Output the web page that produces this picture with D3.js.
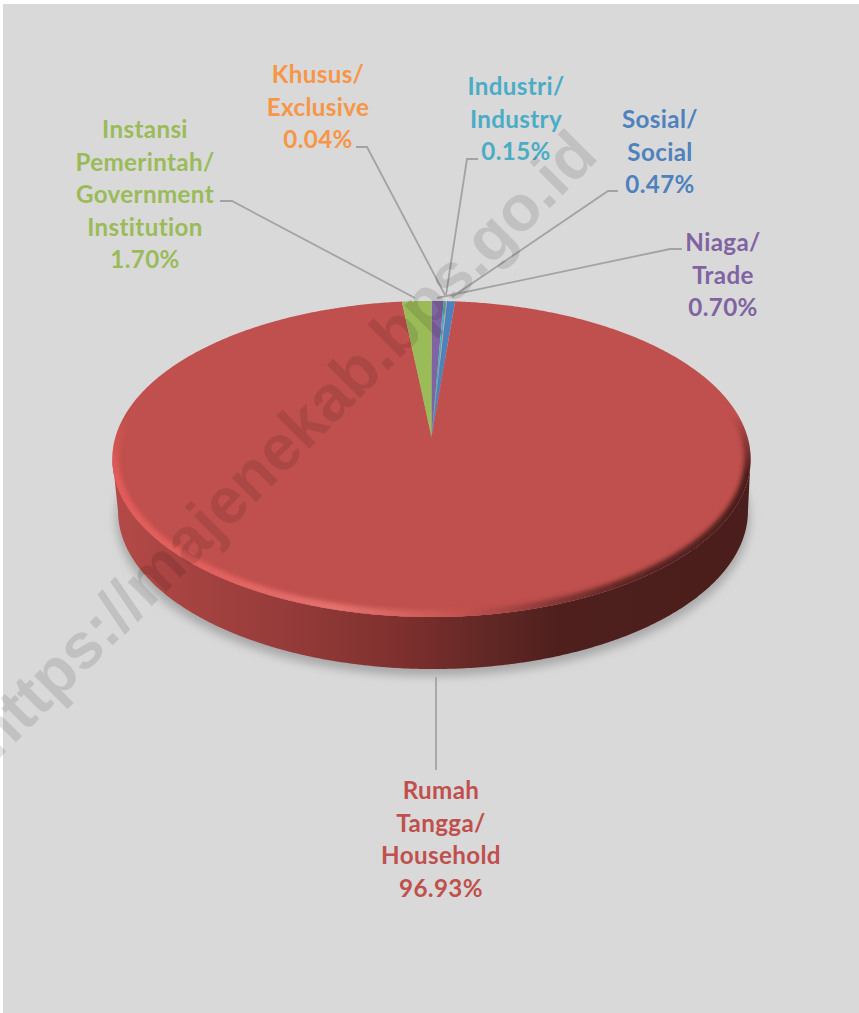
<!DOCTYPE html>
<html>
<head>
<meta charset="utf-8">
<script src="https://cdn.jsdelivr.net/npm/d3@7"></script>
<style>
	html, body { margin: 0; padding: 0; background: #fff; }
	svg { display: block; }
</style>
</head>
<body>
<script>
//wrap everything so nothing is in global scope
(function () {
	//chart data, clockwise from 12 o'clock
	var categories = ["Niaga/ Trade", "Industri/ Industry", "Khusus/ Exclusive", "Sosial/ Social", "Rumah Tangga/ Household", "Instansi Pemerintah/ Government Institution"];
	var values = [0.70, 0.15, 0.04, 0.47, 96.93, 1.70];
	var valueLabels = ["0.70%", "0.15%", "0.04%", "0.47%", "96.93%", "1.70%"];
	var labelLines = [
		["Niaga/", "Trade"],
		["Industri/", "Industry"],
		["Khusus/", "Exclusive"],
		["Sosial/", "Social"],
		["Rumah", "Tangga/", "Household"],
		["Instansi", "Pemerintah/", "Government", "Institution"]
	];
	var colors = ["#8064a2", "#4bacc6", "#f79646", "#4f81bd", "#c0504d", "#9bbb59"];

	//layout of labels: centre x, centre y of first line
	var labelX = [723, 516, 318, 660, 441, 145];
	var labelY = [243, 87, 75, 120, 791, 130];
	var lineStep = 32.6;

	//leader lines
	var leaders = [
		[[682, 249], [670, 249], [437, 298]],
		[[478, 159], [467, 159], [446, 295]],
		[[356, 147], [367, 147], [445, 295]],
		[[618, 191], [608, 191], [452, 297]],
		[[436, 677], [436, 770]],
		[[220, 201], [232, 201], [415, 298]]
	];

	var width = 859, height = 1013;

	//pie in perspective: p is the foreshortening, apex is the pie centre on screen
	var apexX = 431.5, apexY = 437, spanX = 316, spanY = 155, p = 0.139;
	var depth = 52;

	function project(angle, scaleX, shiftX, shiftY) {
		var u = Math.sin(angle), v = Math.cos(angle), w = 1 + p * v;
		return [
			apexX + (shiftX || 0) + (scaleX || 1) * spanX * u / w,
			apexY + (shiftY || 0) - spanY * v / w
		];
	}

	var line = d3.line();

	var svg = d3.select("body").append("svg")
		.attr("width", width)
		.attr("height", height);

	var defs = svg.append("defs");

	defs.append("filter").attr("id", "shadowBlur")
		.attr("x", "-10%").attr("y", "-10%").attr("width", "120%").attr("height", "120%")
		.append("feGaussianBlur").attr("stdDeviation", 5);

	defs.append("filter").attr("id", "rimBlur")
		.attr("x", "-10%").attr("y", "-10%").attr("width", "120%").attr("height", "120%")
		.append("feGaussianBlur").attr("stdDeviation", 2.2);

	function addGradient(id, stops) {
		var g = defs.append("linearGradient").attr("id", id)
			.attr("gradientUnits", "userSpaceOnUse")
			.attr("x1", 113).attr("x2", 751).attr("y1", 0).attr("y2", 0);
		stops.forEach(function (s) {
			g.append("stop").attr("offset", s[0]).attr("stop-color", s[1]);
		});
	}

	//side wall gets darker to the right
	addGradient("wallGrad", [
		[0, "#b44a47"], [0.12, "#a64341"], [0.3, "#923a38"], [0.45, "#7e302e"],
		[0.58, "#632825"], [0.7, "#4e1f1d"], [1, "#4a1e1c"]
	]);
	//rim highlight on the left, soft dark edge on the right
	addGradient("rimGrad", [
		[0, "#e25c5a"], [0.15, "#e2605d"], [0.35, "#e4726e"], [0.47, "#d2605c"],
		[0.56, "#c0504d"], [0.68, "#8a3a38"], [0.8, "#5e2624"], [1, "#4a1e1c"]
	]);

	//rim only shows from about the widest point of the pie downwards
	var rimFade = defs.append("linearGradient").attr("id", "rimFade")
		.attr("gradientUnits", "userSpaceOnUse")
		.attr("x1", 0).attr("x2", 0).attr("y1", 415).attr("y2", 475);
	rimFade.append("stop").attr("offset", 0).attr("stop-color", "#000");
	rimFade.append("stop").attr("offset", 1).attr("stop-color", "#fff");
	defs.append("mask").attr("id", "rimMask")
		.attr("maskUnits", "userSpaceOnUse")
		.attr("x", 0).attr("y", 0).attr("width", width).attr("height", height)
		.append("rect").attr("width", width).attr("height", height).attr("fill", "url(#rimFade)");

	//grey panel, thin white margin at top and left
	svg.append("rect")
		.attr("x", 3).attr("y", 4)
		.attr("width", width - 3).attr("height", height - 4)
		.attr("fill", "#d9d9d9");

	var fullCircle = d3.range(0, 2 * Math.PI, Math.PI / 360);
	var pieces = d3.pie().sort(null).value(function (d) { return d; })(values);

	var topOutline = line(fullCircle.map(function (a) { return project(a); })) + "Z";

	defs.append("clipPath").attr("id", "topClip")
		.append("path").attr("d", topOutline);

	//soft shadow under the pie
	svg.append("path")
		.attr("d", line(fullCircle.map(function (a) { return project(a, 0.992, 1.5, depth + 7); })) + "Z")
		.attr("fill", "#a8a8a8")
		.attr("filter", "url(#shadowBlur)");

	//side wall, between the two points where the outline is widest
	var sideStart = Math.acos(-p), sideEnd = 2 * Math.PI - sideStart;
	var sideAngles = d3.range(sideStart, sideEnd, Math.PI / 360).concat([sideEnd]);
	var wallOutline = sideAngles.map(function (a) { return project(a); })
		.concat(sideAngles.slice().reverse().map(function (a) { return project(a, 0.987, 1.5, depth); }));
	svg.append("path")
		.attr("d", line(wallOutline) + "Z")
		.attr("fill", "url(#wallGrad)");

	//top face slices
	svg.append("g").selectAll("path")
		.data(pieces)
		.enter()
		.append("path")
		.attr("d", function (d) {
			var n = Math.max(2, Math.ceil((d.endAngle - d.startAngle) / (Math.PI / 360)));
			var pts = d3.range(n + 1).map(function (i) {
				return project(d.startAngle + (d.endAngle - d.startAngle) * i / n);
			});
			return line([[apexX, apexY]].concat(pts)) + "Z";
		})
		.attr("fill", function (d, i) { return colors[i]; });

	//rounded rim on the front edge, kept inside the top face
	var rimAngles = d3.range(sideStart - 0.5, sideEnd + 0.5, Math.PI / 360);
	svg.append("g")
		.attr("clip-path", "url(#topClip)")
		.append("g")
		.attr("mask", "url(#rimMask)")
		.append("path")
		.attr("d", line(rimAngles.map(function (a) { return project(a); })))
		.attr("fill", "none")
		.attr("stroke", "url(#rimGrad)")
		.attr("stroke-width", 13)
		.attr("filter", "url(#rimBlur)");

	//leader lines
	svg.append("g").selectAll("path")
		.data(leaders)
		.enter()
		.append("path")
		.attr("d", function (d) { return line(d); })
		.attr("fill", "none")
		.attr("stroke", "#a3a3a3")
		.attr("stroke-width", 1.8);

	//labels
	var labels = svg.append("g").selectAll("text")
		.data(categories)
		.enter()
		.append("text")
		.attr("class", "label")
		.attr("text-anchor", "middle")
		.attr("font-family", "Lato, 'Open Sans', sans-serif")
		.attr("font-weight", 700)
		.attr("font-size", 24.2)
		.attr("letter-spacing", 0.35)
		.attr("fill", function (d, i) { return colors[i]; });

	labels.each(function (d, i) {
		var rows = labelLines[i].concat([valueLabels[i]]);
		d3.select(this).selectAll("tspan")
			.data(rows)
			.enter()
			.append("tspan")
			.attr("x", labelX[i])
			.attr("y", function (r, j) { return labelY[i] + j * lineStep + 8; })
			.text(function (r) { return r; });
	});

	//watermark over everything, its start runs off the left edge as in the source
	svg.append("text")
		.attr("transform", "translate(600,158) rotate(-45)")
		.attr("text-anchor", "end")
		.attr("font-family", "'Liberation Sans', Arial, sans-serif")
		.attr("font-weight", 700)
		.attr("font-size", 64.5)
		.attr("fill", "#000")
		.attr("fill-opacity", 0.11)
		.text("https://majenekab.bps.go.id");
})();
</script>
</body>
</html>
